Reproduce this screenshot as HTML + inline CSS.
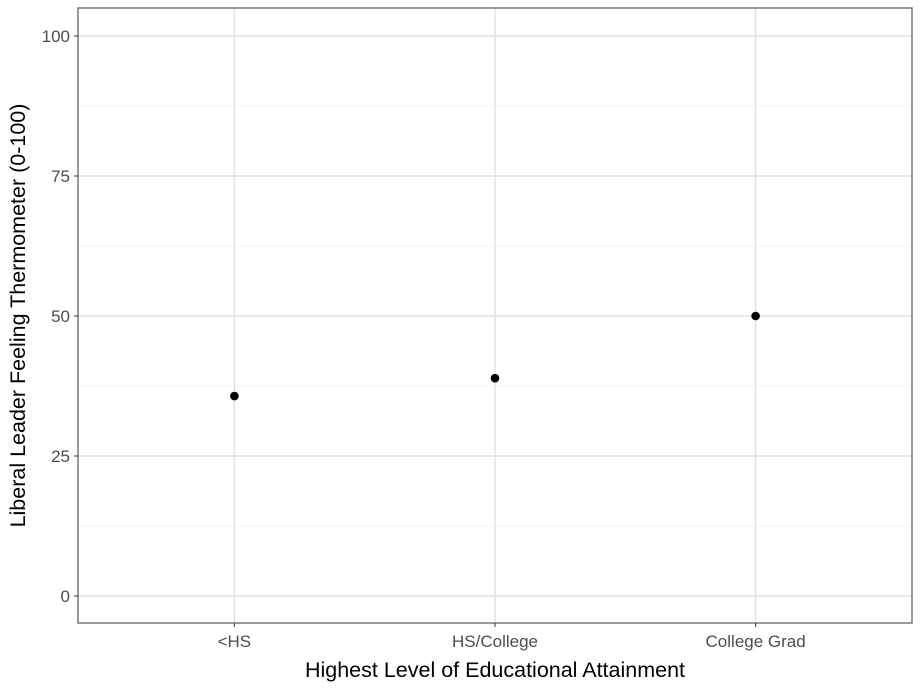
<!DOCTYPE html>
<html><head><meta charset="utf-8"><style>
html,body{margin:0;padding:0;background:#fff;}
svg{display:block;font-family:"Liberation Sans",Arial,sans-serif;}
</style></head><body>
<svg id="chart" width="921" height="691"></svg>
<script>
const categories = ["<HS", "HS/College", "College Grad"];
const values = [35.7, 38.9, 50.0];
const yTicks = [0, 25, 50, 75, 100];
const yMinor = [12.5, 37.5, 62.5, 87.5];

const NS = "http://www.w3.org/2000/svg";
const svg = document.getElementById("chart");
const L = 78, R = 912, T = 8, B = 623;
function y(v){ return 596 - v * 5.6; }
function x(i){ return L + ((i + 1) - 0.4) * (R - L) / (categories.length + 0.2); }
function el(tag, attrs, parent){ const e = document.createElementNS(NS, tag); for (const k in attrs) e.setAttribute(k, attrs[k]); (parent||svg).appendChild(e); return e; }

const grid = el("g", {});


yMinor.forEach(v => { const l = el("line", {x1:L, x2:R, y1:y(v), y2:y(v), stroke:"#f2f2f2", "stroke-width":0.8}, grid);
  
   });
yTicks.forEach(v => { const l = el("line", {x1:L, x2:R, y1:y(v), y2:y(v), stroke:"#e0e0e0", "stroke-width":1.4}, grid);
  
   });
categories.forEach((c, i) => { const l = el("line", {x1:x(i), x2:x(i), y1:T, y2:B, stroke:"#e0e0e0", "stroke-width":1.4}, grid);
  
   });

const panel = el("rect", {x:L, y:T, width:R-L, height:B-T, fill:"none", stroke:"#6e6e6e", "stroke-width":1.4});



yTicks.forEach(v => {
  const t = el("line", {x1:L-4, x2:L, y1:y(v), y2:y(v), stroke:"#333", "stroke-width":1});
  
  
  const tx = el("text", {x:L-8, y:y(v)+6, "text-anchor":"end", "font-size":17, fill:"#4d4d4d"});
  tx.textContent = v;
  
  
});
categories.forEach((c, i) => {
  const t = el("line", {x1:x(i), x2:x(i), y1:B, y2:B+4, stroke:"#333", "stroke-width":1});
  
  
  const tx = el("text", {x:x(i), y:647, "text-anchor":"middle", "font-size":17, fill:"#4d4d4d"});
  tx.textContent = c;
  
  
});
values.forEach((v, i) => {
  const p = el("circle", {cx:x(i), cy:y(v), r:4.3, fill:"#000"});
  
  
});
const xt = el("text", {x:(L+R)/2, y:677, "text-anchor":"middle", "font-size":21.5, fill:"#000"});
xt.textContent = "Highest Level of Educational Attainment";


const yt = el("text", {x:0, y:0, "text-anchor":"middle", "font-size":21.5, fill:"#000", transform:"translate(25,"+((T+B)/2)+") rotate(-90)"});
yt.textContent = "Liberal Leader Feeling Thermometer (0-100)";


</script>
</body></html>
